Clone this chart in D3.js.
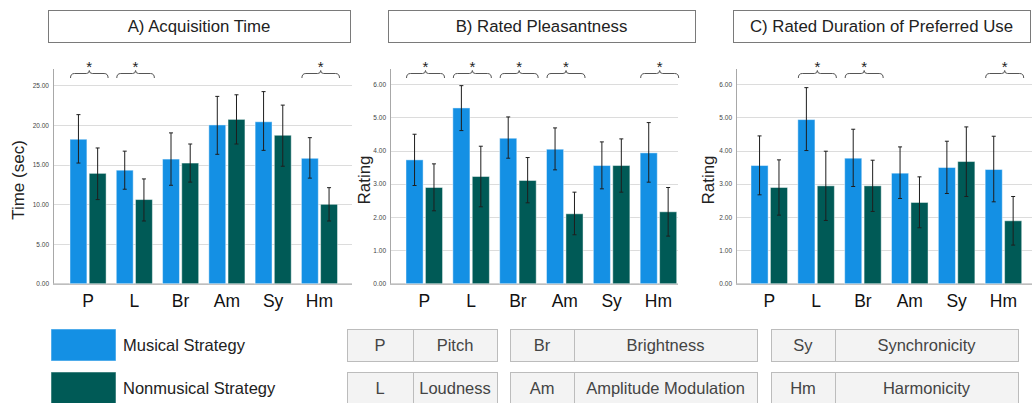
<!DOCTYPE html>
<html>
<head>
<meta charset="utf-8">
<script src="https://cdn.jsdelivr.net/npm/d3@7"></script>
<style>
  body { margin: 0; background: #fff; }
  svg { display: block; font-family: "Liberation Sans", Arial, sans-serif; }
</style>
</head>
<body>
<svg width="1032" height="403"></svg>
<script>
// categories shared by all three panels
const categories = ["P", "L", "Br", "Am", "Sy", "Hm"];
const seriesNames = ["Musical Strategy", "Nonmusical Strategy"];

// A) acquisition time (sec), means and [low, high] error bars
const timeMusical = [18.2, 14.3, 15.7, 20.0, 20.4, 15.8];
const timeMusicalCI = [[15.2, 21.3], [11.9, 16.7], [12.4, 19.0], [16.3, 23.6], [16.8, 24.2], [13.3, 18.4]];
const timeNonmusical = [13.9, 10.6, 15.2, 20.7, 18.7, 10.0];
const timeNonmusicalCI = [[10.6, 17.1], [7.9, 13.2], [12.8, 17.6], [17.6, 23.8], [14.8, 22.5], [7.9, 12.1]];
const timeSig = ["P", "L", "Hm"];
const timeTicks = [0, 5, 10, 15, 20, 25];

// B) rated pleasantness
const pleasMusical = [3.72, 5.28, 4.37, 4.04, 3.55, 3.93];
const pleasMusicalCI = [[2.95, 4.49], [4.60, 5.95], [3.77, 5.01], [3.42, 4.68], [2.85, 4.26], [3.05, 4.84]];
const pleasNonmusical = [2.89, 3.22, 3.10, 2.10, 3.55, 2.16];
const pleasNonmusicalCI = [[2.19, 3.60], [2.31, 4.13], [2.43, 3.79], [1.47, 2.75], [2.75, 4.35], [1.43, 2.89]];
const pleasSig = ["P", "L", "Br", "Am", "Hm"];

// C) rated duration of preferred use
const durMusical = [3.55, 4.93, 3.77, 3.32, 3.49, 3.43];
const durMusicalCI = [[2.67, 4.44], [4.00, 5.89], [2.92, 4.64], [2.56, 4.11], [2.71, 4.28], [2.46, 4.43]];
const durNonmusical = [2.89, 2.94, 2.94, 2.44, 3.67, 1.89];
const durNonmusicalCI = [[2.06, 3.72], [1.90, 3.98], [2.17, 3.71], [1.68, 3.21], [2.62, 4.71], [1.16, 2.62]];
const durSig = ["L", "Br", "Hm"];
const ratingTicks = [0, 1, 2, 3, 4, 5, 6];

// abbreviation key
const abbrevCodes = ["P", "L", "Br", "Am", "Sy", "Hm"];
const abbrevNames = ["Pitch", "Loudness", "Brightness", "Amplitude Modulation", "Synchronicity", "Harmonicity"];

const colors = ["#1490e4", "#005a56"];
const svg = d3.select("svg");

const panels = [
    {title: "A) Acquisition Time", ylabel: "Time (sec)", labelX: 18,
     box: [48, 350], axisX: 53, bars: [70, 337.5], right: 352, ymax: 27.05,
     ticks: timeTicks, m: timeMusical, mci: timeMusicalCI, n: timeNonmusical, nci: timeNonmusicalCI, sig: timeSig},
    {title: "B) Rated Pleasantness", ylabel: "Rating", labelX: 364,
     box: [388, 695], axisX: 390, bars: [406, 676.7], right: 678, ymax: 6.45,
     ticks: ratingTicks, m: pleasMusical, mci: pleasMusicalCI, n: pleasNonmusical, nci: pleasNonmusicalCI, sig: pleasSig},
    {title: "C) Rated Duration of Preferred Use", ylabel: "Rating", labelX: 708,
     box: [733, 1030], axisX: 736, bars: [751, 1021.7], right: 1032, ymax: 6.45,
     ticks: ratingTicks, m: durMusical, mci: durMusicalCI, n: durNonmusical, nci: durNonmusicalCI, sig: durSig}
];

const yTop = 69, yBottom = 283.7;

panels.forEach(function(p) {
    const g = svg.append("g");

    // title box
    g.append("rect")
        .attr("x", p.box[0] + 0.5).attr("y", 10.5)
        .attr("width", p.box[1] - p.box[0]).attr("height", 32)
        .attr("fill", "#fff").attr("stroke", "#7a7a7a");
    g.append("text")
        .attr("x", (p.box[0] + p.box[1]) / 2).attr("y", 32)
        .attr("text-anchor", "middle")
        .style("font-size", "16.8px").attr("fill", "#222")
        .text(p.title);

    const y = d3.scaleLinear().domain([0, p.ymax]).range([yBottom, yTop]);
    const x = d3.scaleBand().domain(categories).range(p.bars).paddingInner(0.22);
    const xs = d3.scaleBand().domain([0, 1]).range([0, x.bandwidth()]).paddingInner(0.12);

    // gridlines
    g.selectAll(".grid")
        .data(p.ticks.filter(t => t > 0))
        .enter().append("line")
        .attr("x1", p.axisX).attr("x2", p.right)
        .attr("y1", d => Math.round(y(d)) + 0.5).attr("y2", d => Math.round(y(d)) + 0.5)
        .attr("stroke", "#dcdcdc").attr("stroke-width", 1.2);

    // y axis
    const yAxis = g.append("g")
        .attr("transform", "translate(" + p.axisX + ",0)")
        .call(d3.axisLeft(y).tickValues(p.ticks).tickFormat(d3.format(".2f")).tickSize(0).tickPadding(4));
    yAxis.select(".domain").attr("stroke", "#a8a8a8").attr("d", "M0.5," + yTop + "V" + yBottom);
    yAxis.selectAll("text").style("font-size", "6.5px").attr("fill", "#444")
        .style("font-family", "\"Liberation Sans\", Arial, sans-serif");

    // x axis line
    g.append("line")
        .attr("x1", p.axisX).attr("x2", p.right)
        .attr("y1", yBottom + 0.5).attr("y2", yBottom + 0.5)
        .attr("stroke", "#a8a8a8").attr("stroke-width", 1.2);

    // y label
    g.append("text")
        .attr("transform", "translate(" + (p.labelX + 6) + "," + 180 + ") rotate(-90)")
        .attr("text-anchor", "middle")
        .style("font-size", "17px").attr("fill", "#222")
        .text(p.ylabel);

    // bars
    const rows = [];
    categories.forEach(function(c, i) {
        rows.push({cat: c, s: 0, v: p.m[i], ci: p.mci[i]});
        rows.push({cat: c, s: 1, v: p.n[i], ci: p.nci[i]});
    });
    g.selectAll(".bar")
        .data(rows)
        .enter().append("rect")
        .attr("x", d => x(d.cat) + xs(d.s))
        .attr("y", d => y(d.v))
        .attr("width", xs.bandwidth())
        .attr("height", d => y(0) - y(d.v))
        .attr("fill", d => colors[d.s])
        .attr("stroke", "rgba(255,255,255,0.45)").attr("stroke-width", 1);

    // error bars
    const eb = g.selectAll(".err").data(rows).enter().append("g")
        .attr("stroke", "#1e1e1e").attr("stroke-width", 1);
    const cx = d => x(d.cat) + xs(d.s) + xs.bandwidth() / 2;
    eb.append("line").attr("x1", cx).attr("x2", cx)
        .attr("y1", d => y(d.ci[0])).attr("y2", d => y(d.ci[1]));
    eb.append("line").attr("x1", d => cx(d) - 2).attr("x2", d => cx(d) + 2)
        .attr("y1", d => y(d.ci[0])).attr("y2", d => y(d.ci[0]));
    eb.append("line").attr("x1", d => cx(d) - 2).attr("x2", d => cx(d) + 2)
        .attr("y1", d => y(d.ci[1])).attr("y2", d => y(d.ci[1]));

    // category labels
    g.selectAll(".cat")
        .data(categories)
        .enter().append("text")
        .attr("x", d => x(d) + x.bandwidth() / 2).attr("y", 307)
        .attr("text-anchor", "middle")
        .style("font-size", "17.5px").attr("fill", "#111")
        .text(d => d);

    // significance brackets
    const by = 73.5;
    const sg = g.selectAll(".sig").data(p.sig).enter().append("g");
    sg.append("path")
        .attr("d", function(d) {
            const a = x(d) + 0.5, b = x(d) + x.bandwidth() + 2, m = (a + b) / 2;
            return "M" + a + ",78Q" + a + "," + by + " " + (a + 4) + "," + by +
                "L" + (m - 3) + "," + by + "Q" + m + "," + by + " " + m + "," + (by - 3) +
                "Q" + m + "," + by + " " + (m + 3) + "," + by +
                "L" + (b - 4) + "," + by + "Q" + b + "," + by + " " + b + ",78";
        })
        .attr("fill", "none").attr("stroke", "#555").attr("stroke-width", 1);
    sg.append("text")
        .attr("x", d => x(d) + x.bandwidth() / 2 + 1.2).attr("y", 72)
        .attr("text-anchor", "middle")
        .style("font-size", "15px").attr("fill", "#222")
        .text("*");
});

// series legend
const legend = svg.append("g");
legend.selectAll("rect")
    .data(seriesNames)
    .enter().append("rect")
    .attr("x", 51).attr("y", (d, i) => 329 + i * 43)
    .attr("width", 65).attr("height", 32)
    .attr("fill", (d, i) => colors[i])
    .attr("stroke", "rgba(255,255,255,0.5)");
legend.selectAll("text")
    .data(seriesNames)
    .enter().append("text")
    .attr("x", 123).attr("y", (d, i) => 351 + i * 43)
    .style("font-size", "16.5px").attr("fill", "#222")
    .text(d => d);

// abbreviation key
const keyCols = [[347, 413, 497], [510, 574, 757], [771, 835, 1018]];
const key = svg.append("g");
abbrevCodes.forEach(function(code, i) {
    const col = keyCols[Math.floor(i / 2)];
    const top = 329 + (i % 2) * 43;
    key.append("rect")
        .attr("x", col[0] + 0.5).attr("y", top + 0.5)
        .attr("width", col[2] - col[0]).attr("height", 32)
        .attr("fill", "#f3f3f3").attr("stroke", "#bcbcbc");
    key.append("line")
        .attr("x1", col[1] + 0.5).attr("x2", col[1] + 0.5)
        .attr("y1", top).attr("y2", top + 33)
        .attr("stroke", "#bcbcbc");
    key.append("text")
        .attr("x", (col[0] + col[1]) / 2).attr("y", top + 22)
        .attr("text-anchor", "middle")
        .style("font-size", "16.5px").attr("fill", "#444")
        .text(code);
    key.append("text")
        .attr("x", (col[1] + col[2]) / 2).attr("y", top + 22)
        .attr("text-anchor", "middle")
        .style("font-size", "16.5px").attr("fill", "#444")
        .text(abbrevNames[i]);
});
</script>
</body>
</html>
